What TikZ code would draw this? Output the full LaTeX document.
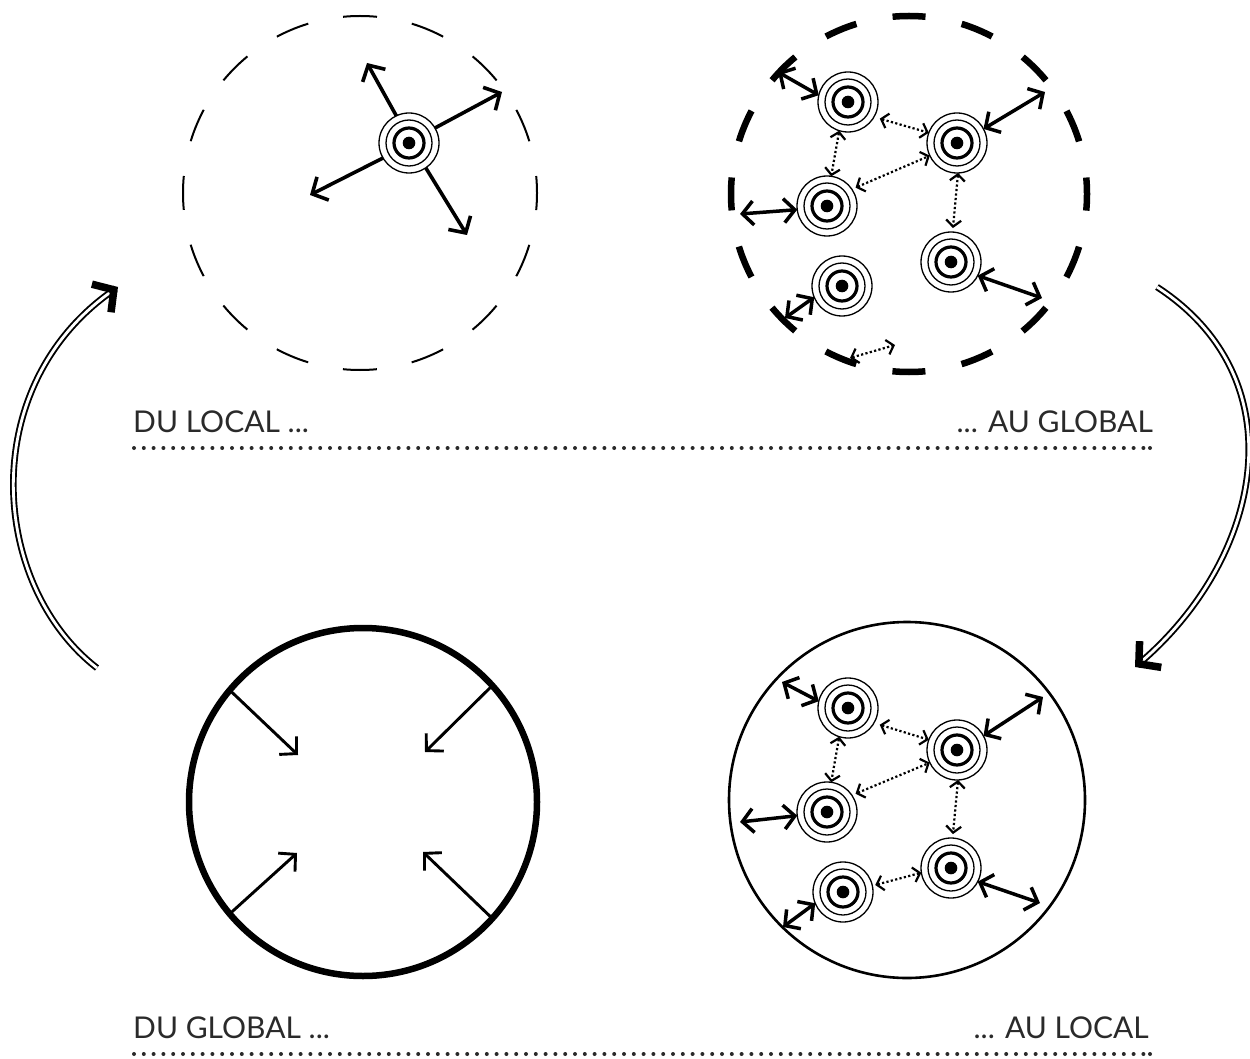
\documentclass[tikz,border=0pt]{standalone}
\usepackage{fontspec}
\setmainfont{Lato}
\usetikzlibrary{arrows.meta}
\definecolor{txtgray}{HTML}{2A2A2A}
\begin{document}
\begin{tikzpicture}[x=1pt,y=-1pt,
  target/.style={circle, draw, line width=1.3pt, minimum size=60pt, inner sep=0pt, outer sep=0pt,
    path picture={\draw[line width=1.3pt] (path picture bounding box.center) circle (23pt);
      \draw[line width=3.2pt] (path picture bounding box.center) circle (15pt);
      \fill (path picture bounding box.center) circle (6.3pt);}},
  bigcirc/.style={circle, draw, inner sep=0pt, outer sep=0pt},
  tlarr/.style={line width=3.6pt, arrows={-Straight Barb[length=12pt,width=26pt]}},
  blarr/.style={line width=2.9pt, arrows={-Straight Barb[length=12pt,width=25pt]}},
  solidarr/.style={line width=3.5pt, arrows={Straight Barb[length=11pt,width=24pt]-Straight Barb[length=11pt,width=24pt]}},
  dotarr/.style={line width=2.2pt, dash pattern=on 2.2pt off 2.3pt, arrows={Straight Barb[length=6.5pt,width=15pt]-Straight Barb[length=6.5pt,width=15pt]}},
  bigarr/.style={double, line width=1.9pt, double distance=2.8pt, shorten >=4pt},
  bigtip/.style={line width=7.5pt, arrows={-Straight Barb[length=15pt,width=34pt]}},
  lab/.style={inner sep=0pt, text=txtgray, font=\fontsize{30}{36}\selectfont},
  dotline/.style={line width=4pt, line cap=round, dash pattern=on 0pt off 9.8pt, draw=txtgray},
  enddot/.style={fill=txtgray}
]
\useasboundingbox (0,0) rectangle (1250,1059);

% ---------- top left: du local
\node[bigcirc, minimum size=354pt, line width=2pt, dash pattern=on 34pt off 35.51pt, dash phase=17pt] (tlc) at (360,193) {};
\node[target] (t) at (409,143) {};
\coordinate (t1) at (367,63);
\coordinate (t2) at (502,92);
\coordinate (t3) at (310,195);
\coordinate (t4) at (467,235);
\draw[tlarr] (t.115) -- (t1);
\draw[tlarr] (t.30) -- (t2);
\draw[tlarr] (t.210) -- (t3);
\draw[tlarr] (t.-56) -- (t4);

% ---------- top right: au global
\node[target] (ra) at (848,102) {};
\node[target] (rb) at (957,143) {};
\node[target] (rc) at (827,206) {};
\node[target] (rd) at (951,262) {};
\node[target] (re) at (842,286) {};
\coordinate (rax) at (778,72);
\coordinate (rbx) at (1045,92);
\coordinate (rcx) at (740,214);
\coordinate (rdx) at (1042,298);
\coordinate (rex) at (785,318);
\coordinate (rx1) at (850,358);
\coordinate (rx2) at (895,345);
\draw[solidarr] (ra.167) -- (rax);
\draw[solidarr] (rb.28) -- (rbx);
\draw[solidarr] (rc.187) -- (rcx);
\draw[solidarr] (rd.-27) -- (rdx);
\draw[solidarr] (re.-158) -- (rex);
\draw[dotarr, shorten <=6pt] (ra.-30) -- (rb.160);
\draw[dotarr] (ra.-107) -- (rc.82);
\draw[dotarr, shorten <=4pt] (rc.34) -- (rb.-155);
\draw[dotarr, shorten >=4pt] (rb.-88) -- (rd.87);
\draw[dotarr] (rx1) -- (rx2);
\node[bigcirc, minimum size=356pt, line width=6.5pt, dash pattern=on 33pt off 36.9pt, dash phase=16.5pt] (trc) at (909,194) {};

% ---------- labels row 1
\node[lab, anchor=base west] (l1) at (133,432) {DU LOCAL ...};
\node[lab, anchor=base east] (l2) at (1153,432) {... AU GLOBAL};
\coordinate (d1a) at (134,448);
\coordinate (d1b) at (1150,448);
\draw[dotline] (d1a) -- (d1b);
\fill[enddot] (d1b) circle (2pt);

% ---------- bottom left: du global
\node[bigcirc, minimum size=348pt, line width=6.5pt] (blc) at (363,802) {};
\coordinate (b1) at (298,755);
\coordinate (b2) at (425,752);
\coordinate (b3) at (297,853);
\coordinate (b4) at (423,852);
\draw[blarr] (blc.140) -- (b1);
\draw[blarr] (blc.42) -- (b2);
\draw[blarr] (blc.-140) -- (b3);
\draw[blarr] (blc.-42) -- (b4);

% ---------- bottom right: au local
\node[bigcirc, minimum size=356pt, line width=2.6pt] (brc) at (907,800) {};
\node[target] (sa) at (848,708) {};
\node[target] (sb) at (957,750) {};
\node[target] (sc) at (827,812) {};
\node[target] (sd) at (951,868) {};
\node[target] (se) at (843,892) {};
\coordinate (sax) at (782,682);
\coordinate (sbx) at (1043,697);
\coordinate (scx) at (740,822);
\coordinate (sdx) at (1040,903);
\coordinate (sex) at (783,927);
\draw[solidarr] (sa.167) -- (sax);
\draw[solidarr] (sb.28) -- (sbx);
\draw[solidarr] (sc.187) -- (scx);
\draw[solidarr] (sd.-27) -- (sdx);
\draw[solidarr] (se.-158) -- (sex);
\draw[dotarr, shorten <=6pt] (sa.-30) -- (sb.160);
\draw[dotarr] (sa.-107) -- (sc.82);
\draw[dotarr, shorten <=4pt] (sc.34) -- (sb.-155);
\draw[dotarr, shorten >=4pt] (sb.-88) -- (sd.87);
\draw[dotarr, shorten <=3pt] (se.12) -- (sd.189);

% ---------- labels row 2
\node[lab, anchor=base west] (l3) at (133,1038) {DU GLOBAL ...};
\node[lab, anchor=base east] (l4) at (1149,1038) {... AU LOCAL};
\coordinate (d2a) at (134,1054);
\coordinate (d2b) at (1150,1054);
\draw[dotline] (d2a) -- (d2b);
\fill[enddot] (d2b) circle (2pt);

% ---------- curved transition arrows
\coordinate (la1) at (97,668);
\coordinate (la2) at (118,287);
\coordinate (ra1) at (1157,287);
\coordinate (ra2) at (1135,667);
\draw[bigarr] (la1) .. controls (-10,585) and (-25,385) .. (la2);
\draw[bigtip] ([shift={(-2.5,1.7)}]la2) -- (la2);
\draw[bigarr] (ra1) .. controls (1300,380) and (1262,560) .. (ra2);
\draw[bigtip] ([shift={(2.3,-1.9)}]ra2) -- (ra2);
\end{tikzpicture}
\end{document}
